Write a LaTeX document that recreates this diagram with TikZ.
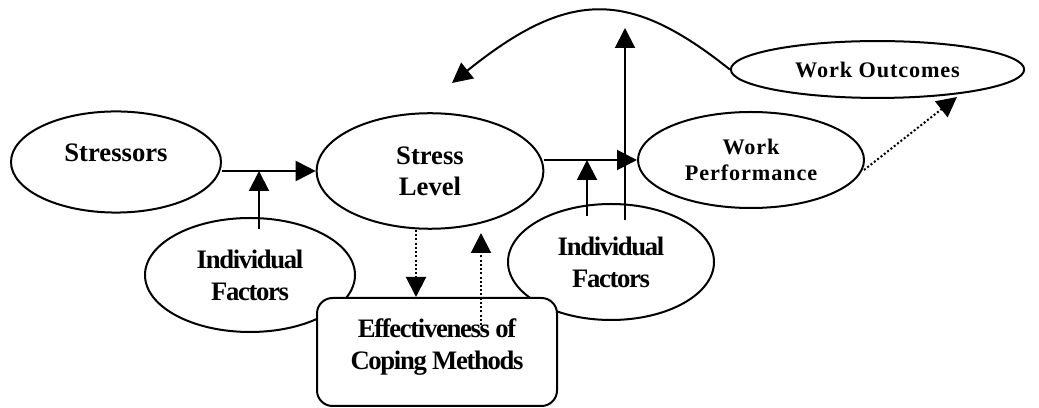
\documentclass[tikz,border=0pt]{standalone}
\usepackage{fontspec}
\setmainfont{Liberation Serif}
\newfontfamily\narrowserif[LetterSpace=-5]{Liberation Serif}
\newfontfamily\wideserif[LetterSpace=4]{Liberation Serif}
\usetikzlibrary{shapes.geometric,arrows.meta}

\tikzset{
    blob/.style={ellipse, draw, line width=0.9pt, inner sep=0pt, align=center,
        font=\bfseries\fontsize{12}{14}\selectfont},
    narrowblob/.style={blob, font=\narrowserif\bfseries\fontsize{12}{14.4}\selectfont},
    wideblob/.style={blob, font=\wideserif\bfseries\fontsize{10}{11.7}\selectfont},
    copingbox/.style={draw, fill=white, line width=0.9pt, rounded corners=7pt, inner sep=0pt, align=center,
        font=\narrowserif\bfseries\fontsize{12}{14.4}\selectfont},
    arr/.style={line width=0.9pt, -{Triangle[length=9pt,width=9pt]}},
    dotarr/.style={arr, densely dotted},
}

\begin{document}
\begin{tikzpicture}[x=0.45pt, y=-0.45pt]
    \useasboundingbox (0,0) rectangle (1039,408);

    \node[blob, minimum width=94.5pt, minimum height=45.5pt, text height=8pt, text depth=8pt] (stressors) at (116,162) {Stressors};
    \node[blob, minimum width=102pt, minimum height=52pt] (stresslvl) at (430,171) {Stress\\Level};
    \node[narrowblob, minimum width=94.5pt, minimum height=51.3pt] (indleft) at (250,275) {Individual\\Factors};
    \node[narrowblob, minimum width=92.7pt, minimum height=52.2pt] (indright) at (611,262) {Individual\\Factors};
    \node[wideblob, minimum width=101.7pt, minimum height=43.2pt] (workperf) at (751,160) {Work\\Performance};
    \node[wideblob, minimum width=132pt, minimum height=25.6pt] (workout) at (877.5,69.5) {Work Outcomes};
    \node[copingbox, minimum width=108pt, minimum height=48.6pt, text depth=7pt] (coping) at (437,352) {Effectiveness of\\Coping Methods};

    % free ends of the connectors
    \coordinate (modleft) at (259,229);
    \coordinate (modright) at (587,216);
    \coordinate (modup) at (625,220);
    \coordinate (moduptip) at (625,28);
    \coordinate (copedown) at (416,230);
    \coordinate (copeup) at (481,325);
    \coordinate (copeuptip) at (481,233);
    \coordinate (perfout) at (864,170);
    \coordinate (perfouttip) at (957,97);
    \coordinate (feedtip) at (452,83);

    % main chain
    \draw[arr] (stressors.east |- stresslvl.west) -- (stresslvl.west);
    \draw[arr] (stresslvl.east |- workperf.west) -- (workperf.west);

    % moderators
    \draw[arr] (modleft) -- (modleft |- stresslvl.west);
    \draw[arr] (modright) -- (modright |- workperf.west);
    \draw[arr] (modup) -- (moduptip);

    % coping loop
    \draw[dotarr] (copedown) -- (copedown |- coping.north);
    \draw[dotarr] (copeup) -- (copeuptip);

    % outcomes
    \draw[dotarr] (perfout) -- (perfouttip);
    \draw[arr] (workout.west) .. controls (630,-10) and (570,-12) .. (feedtip);
\end{tikzpicture}
\end{document}
